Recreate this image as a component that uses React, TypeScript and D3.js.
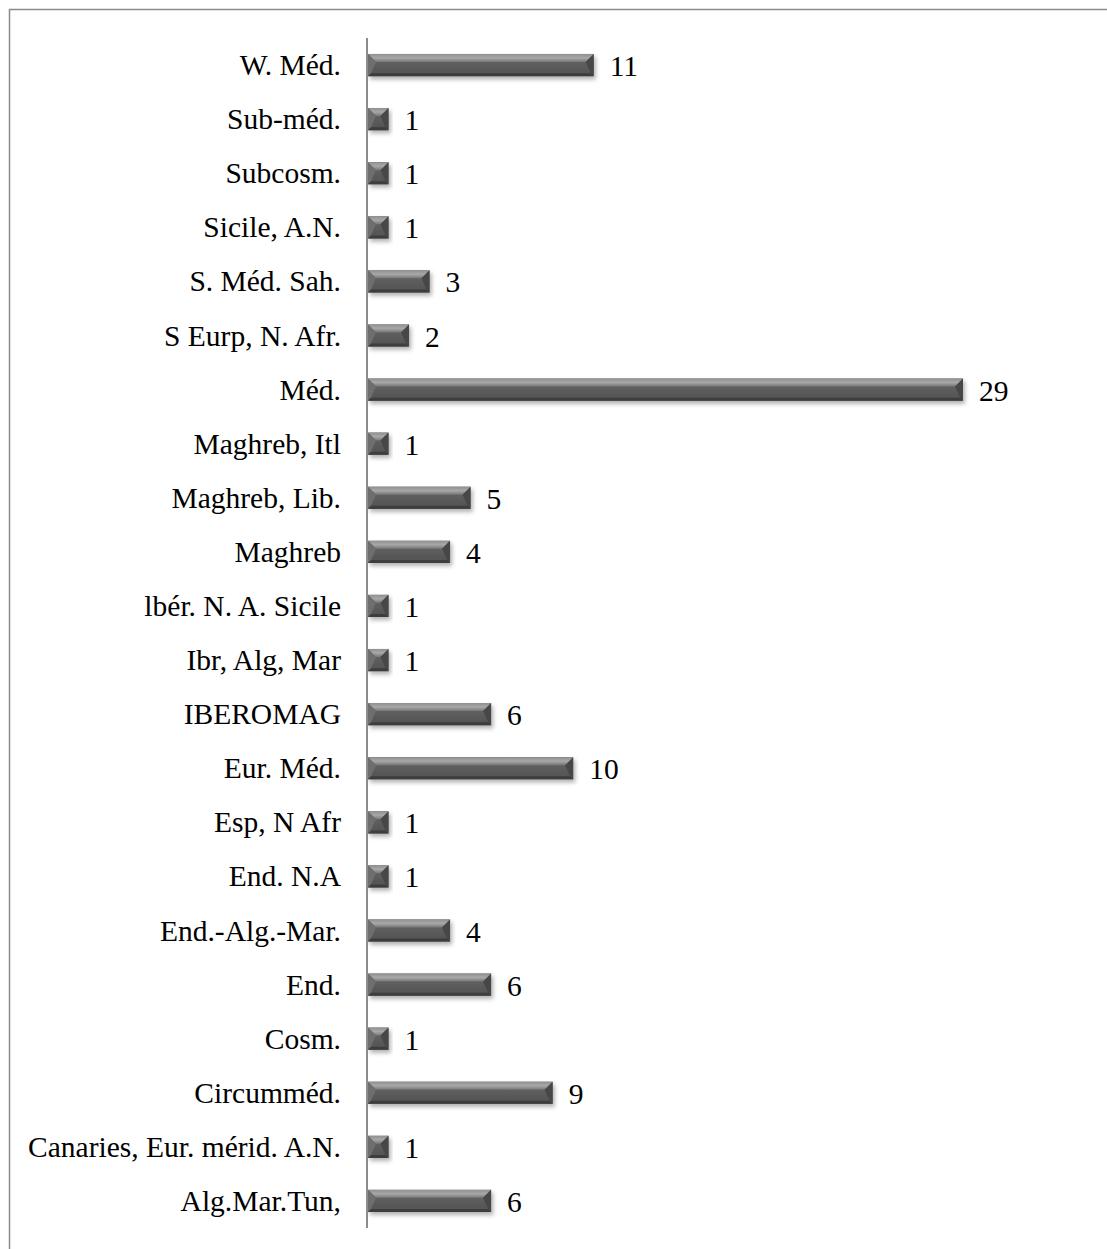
import React from "react";
import * as d3 from "d3";

// Number of taxa per chorological type
const categories: string[] = [
  "W. Méd.",
  "Sub-méd.",
  "Subcosm.",
  "Sicile, A.N.",
  "S. Méd. Sah.",
  "S Eurp, N. Afr.",
  "Méd.",
  "Maghreb, Itl",
  "Maghreb, Lib.",
  "Maghreb",
  "lbér. N. A. Sicile",
  "Ibr, Alg, Mar",
  "IBEROMAG",
  "Eur. Méd.",
  "Esp, N Afr",
  "End. N.A",
  "End.-Alg.-Mar.",
  "End.",
  "Cosm.",
  "Circumméd.",
  "Canaries, Eur. mérid. A.N.",
  "Alg.Mar.Tun,",
];

const counts: number[] = [11, 1, 1, 1, 3, 2, 29, 1, 5, 4, 1, 1, 6, 10, 1, 1, 4, 6, 1, 9, 1, 6];

const WIDTH = 1107;
const HEIGHT = 1249;
const AXIS_X = 367;
const TOP = 38;
const BOTTOM = 1228;
const FONT = "Liberation Serif, Times New Roman, serif";

function Bar({ x0, x1, y0, y1 }: { x0: number; x1: number; y0: number; y1: number }) {
  const w = x1 - x0;
  const h = y1 - y0;
  const b = Math.min(8, w / 2, h / 2);
  const bb = Math.min(3, w / 2, h / 2);
  return (
    <g filter="url(#barShadow)">
      <rect x={x0} y={y0} width={w} height={h} fill="url(#faceGrad)" />
      {/* top bevel */}
      <polygon
        points={`${x0},${y0} ${x1},${y0} ${x1 - b},${y0 + b} ${x0 + b},${y0 + b}`}
        fill="url(#topGrad)"
      />
      {/* left bevel */}
      <polygon
        points={`${x0},${y0} ${x0 + b},${y0 + b} ${x0 + bb},${y1 - bb} ${x0},${y1}`}
        fill="#6e6e6e"
      />
      {/* right bevel */}
      <polygon
        points={`${x1},${y0} ${x1 - b},${y0 + b} ${x1 - bb},${y1 - bb} ${x1},${y1}`}
        fill="#474747"
      />
      {/* bottom bevel */}
      <polygon
        points={`${x0},${y1} ${x0 + bb},${y1 - bb} ${x1 - bb},${y1 - bb} ${x1},${y1}`}
        fill="#3e3e3e"
      />
    </g>
  );
}

export default function App() {
  const y = d3
    .scaleBand<string>()
    .domain(categories)
    .range([TOP, BOTTOM])
    .paddingInner(0.59)
    .paddingOuter(0.295);

  const x = d3.scaleLinear().domain([0, 29]).range([AXIS_X + 1, 963]);

  return (
    <svg
      width={WIDTH}
      height={HEIGHT}
      style={{ position: "absolute", left: 0, top: 0, background: "#fff" }}
    >
      <defs>
        <linearGradient id="faceGrad" x1="0" y1="0" x2="0" y2="1">
          <stop offset="0%" stopColor="#6a6a6a" />
          <stop offset="50%" stopColor="#5c5c5c" />
          <stop offset="100%" stopColor="#535353" />
        </linearGradient>
        <linearGradient id="topGrad" x1="0" y1="0" x2="0" y2="1">
          <stop offset="0%" stopColor="#909090" />
          <stop offset="50%" stopColor="#a8a8a8" />
          <stop offset="100%" stopColor="#767676" />
        </linearGradient>
        <filter id="barShadow" x="-20%" y="-40%" width="140%" height="200%">
          <feDropShadow dx="2" dy="3" stdDeviation="2" floodColor="#000" floodOpacity="0.3" />
        </filter>
      </defs>

      {/* chart frame */}
      <rect
        x={9.5}
        y={9.5}
        width={WIDTH + 20}
        height={HEIGHT + 20}
        fill="none"
        stroke="#8a8a8a"
        strokeWidth={1.5}
      />

      {categories.map((c, i) => {
        const y0 = y(c)!;
        const h = y.bandwidth();
        const v = counts[i];
        const xe = x(v);
        return (
          <g key={c}>
            <Bar x0={x(0)} x1={xe} y0={y0} y1={y0 + h} />
            <text
              x={AXIS_X - 26}
              y={y0 + h / 2}
              textAnchor="end"
              dominantBaseline="central"
              fontFamily={FONT}
              fontSize={29.5}
              fill="#000"
            >
              {c}
            </text>
            <text
              x={xe + 16}
              y={y0 + h / 2 + 1}
              textAnchor="start"
              dominantBaseline="central"
              fontFamily={FONT}
              fontSize={29.5}
              fill="#000"
            >
              {v}
            </text>
          </g>
        );
      })}

      {/* category axis */}
      <line x1={AXIS_X} x2={AXIS_X} y1={TOP} y2={BOTTOM} stroke="#8c8c8c" strokeWidth={2} />
    </svg>
  );
}
